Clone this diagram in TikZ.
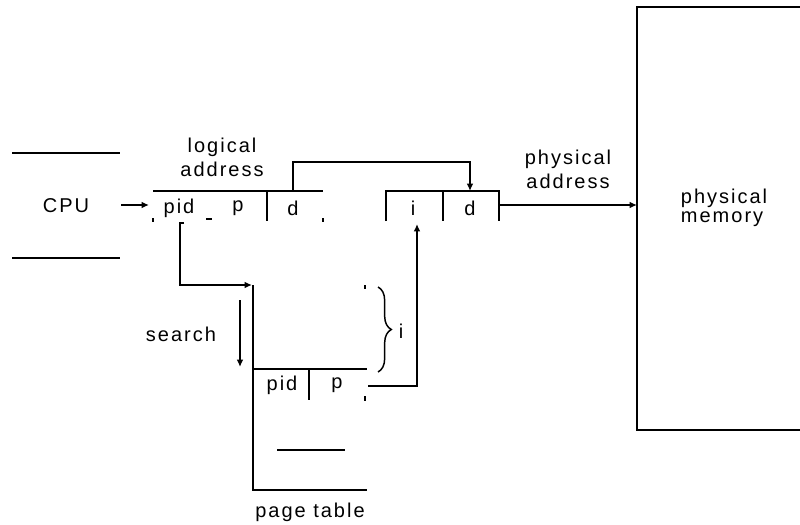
\documentclass[tikz,border=0pt]{standalone}
\usepackage{fontspec}
\setmainfont{Liberation Sans}[LetterSpace=10]
\usetikzlibrary{arrows.meta,decorations.pathreplacing}
\begin{document}
\begin{tikzpicture}[x=0.75pt,y=-0.75pt,line width=1.4pt,
  lbl/.style={font=\fontsize{15}{18}\selectfont,inner sep=0pt,align=center},
  lbll/.style={font=\fontsize{15}{14}\selectfont,inner sep=0pt,align=left},
  arr/.style={-{Latex[length=5.5pt,width=5pt]}},
  tick/.style={line width=1.4pt}]
\useasboundingbox (0,0) rectangle (800,525);

% CPU
\draw (12,153) -- (120,153);
\draw (12,258) -- (120,258);
\node[lbl] (cpu) at (66,206) {CPU};
\coordinate (cpuout) at (121,205);
\coordinate (lain) at (149,205);
\draw[arr] (cpuout) -- (lain);

% logical address
\node[lbl] (lalbl) at (222,157) {logical\\address};
\draw (153,191) -- (323,191);
\draw (267,191) -- (267,221);
\node[lbl] (lpid) at (179,208) {pid};
\node[lbl] (lp) at (238,208) {p};
\node[lbl] (ld) at (293,208) {d};
\draw[tick] (153,218) -- (153,222);
\draw[tick] (206,219) -- (212,219);
\draw[tick] (323,218) -- (323,222);

% d -> d
\coordinate (ldtop) at (293,191);
\coordinate (pdtop) at (470,191);
\draw[arr] (ldtop) -- (293,162) -- (470,162) -- (pdtop);

% physical address
\draw (386,221) -- (386,191) -- (499,191) -- (499,221);
\draw (443,191) -- (443,221);
\node[lbl] (pi) at (413,208) {i};
\node[lbl] (pd) at (470,208) {d};
\node[lbl] (palbl) at (568,169) {physical\\address};
\coordinate (paout) at (499,205);
\coordinate (pmin) at (637,205);
\draw[arr] (paout) -- (pmin);

% physical memory
\draw (802,7) -- (637,7) -- (637,430) -- (802,430);
\node[lbll,anchor=west] (pm) at (680,208) {physical\\memory};

% pid -> page table
\coordinate (pidout) at (180,223);
\coordinate (ptin) at (252,285);
\draw[arr] (184,223) -- (pidout) |- (ptin);

% search
\node[lbl] (search) at (181,334) {search};
\coordinate (s1) at (240,300);
\coordinate (s2) at (240,367);
\draw[arr] (s1) -- (s2);

% page table
\draw (253,285) -- (253,490) -- (367,490);
\draw (253,369) -- (367,369);
\draw (309,369) -- (309,400);
\node[lbl] (tpid) at (282,385) {pid};
\node[lbl] (tp) at (337,385) {p};
\draw (277,450) -- (345,450);
\draw[tick] (365,285) -- (365,289);
\draw[tick] (365,396) -- (365,401);
\node[lbl] (ptlbl) at (310,512) {page table};

% brace
\draw[line width=1.1pt,decorate,decoration={brace,amplitude=10pt}] (378,287) -- (378,372);
\node[lbl] (bi) at (401,331) {i};

% p -> i
\coordinate (tpout) at (368,386);
\coordinate (piin) at (417,224);
\draw[arr] (tpout) -| (piin);
\end{tikzpicture}
\end{document}
